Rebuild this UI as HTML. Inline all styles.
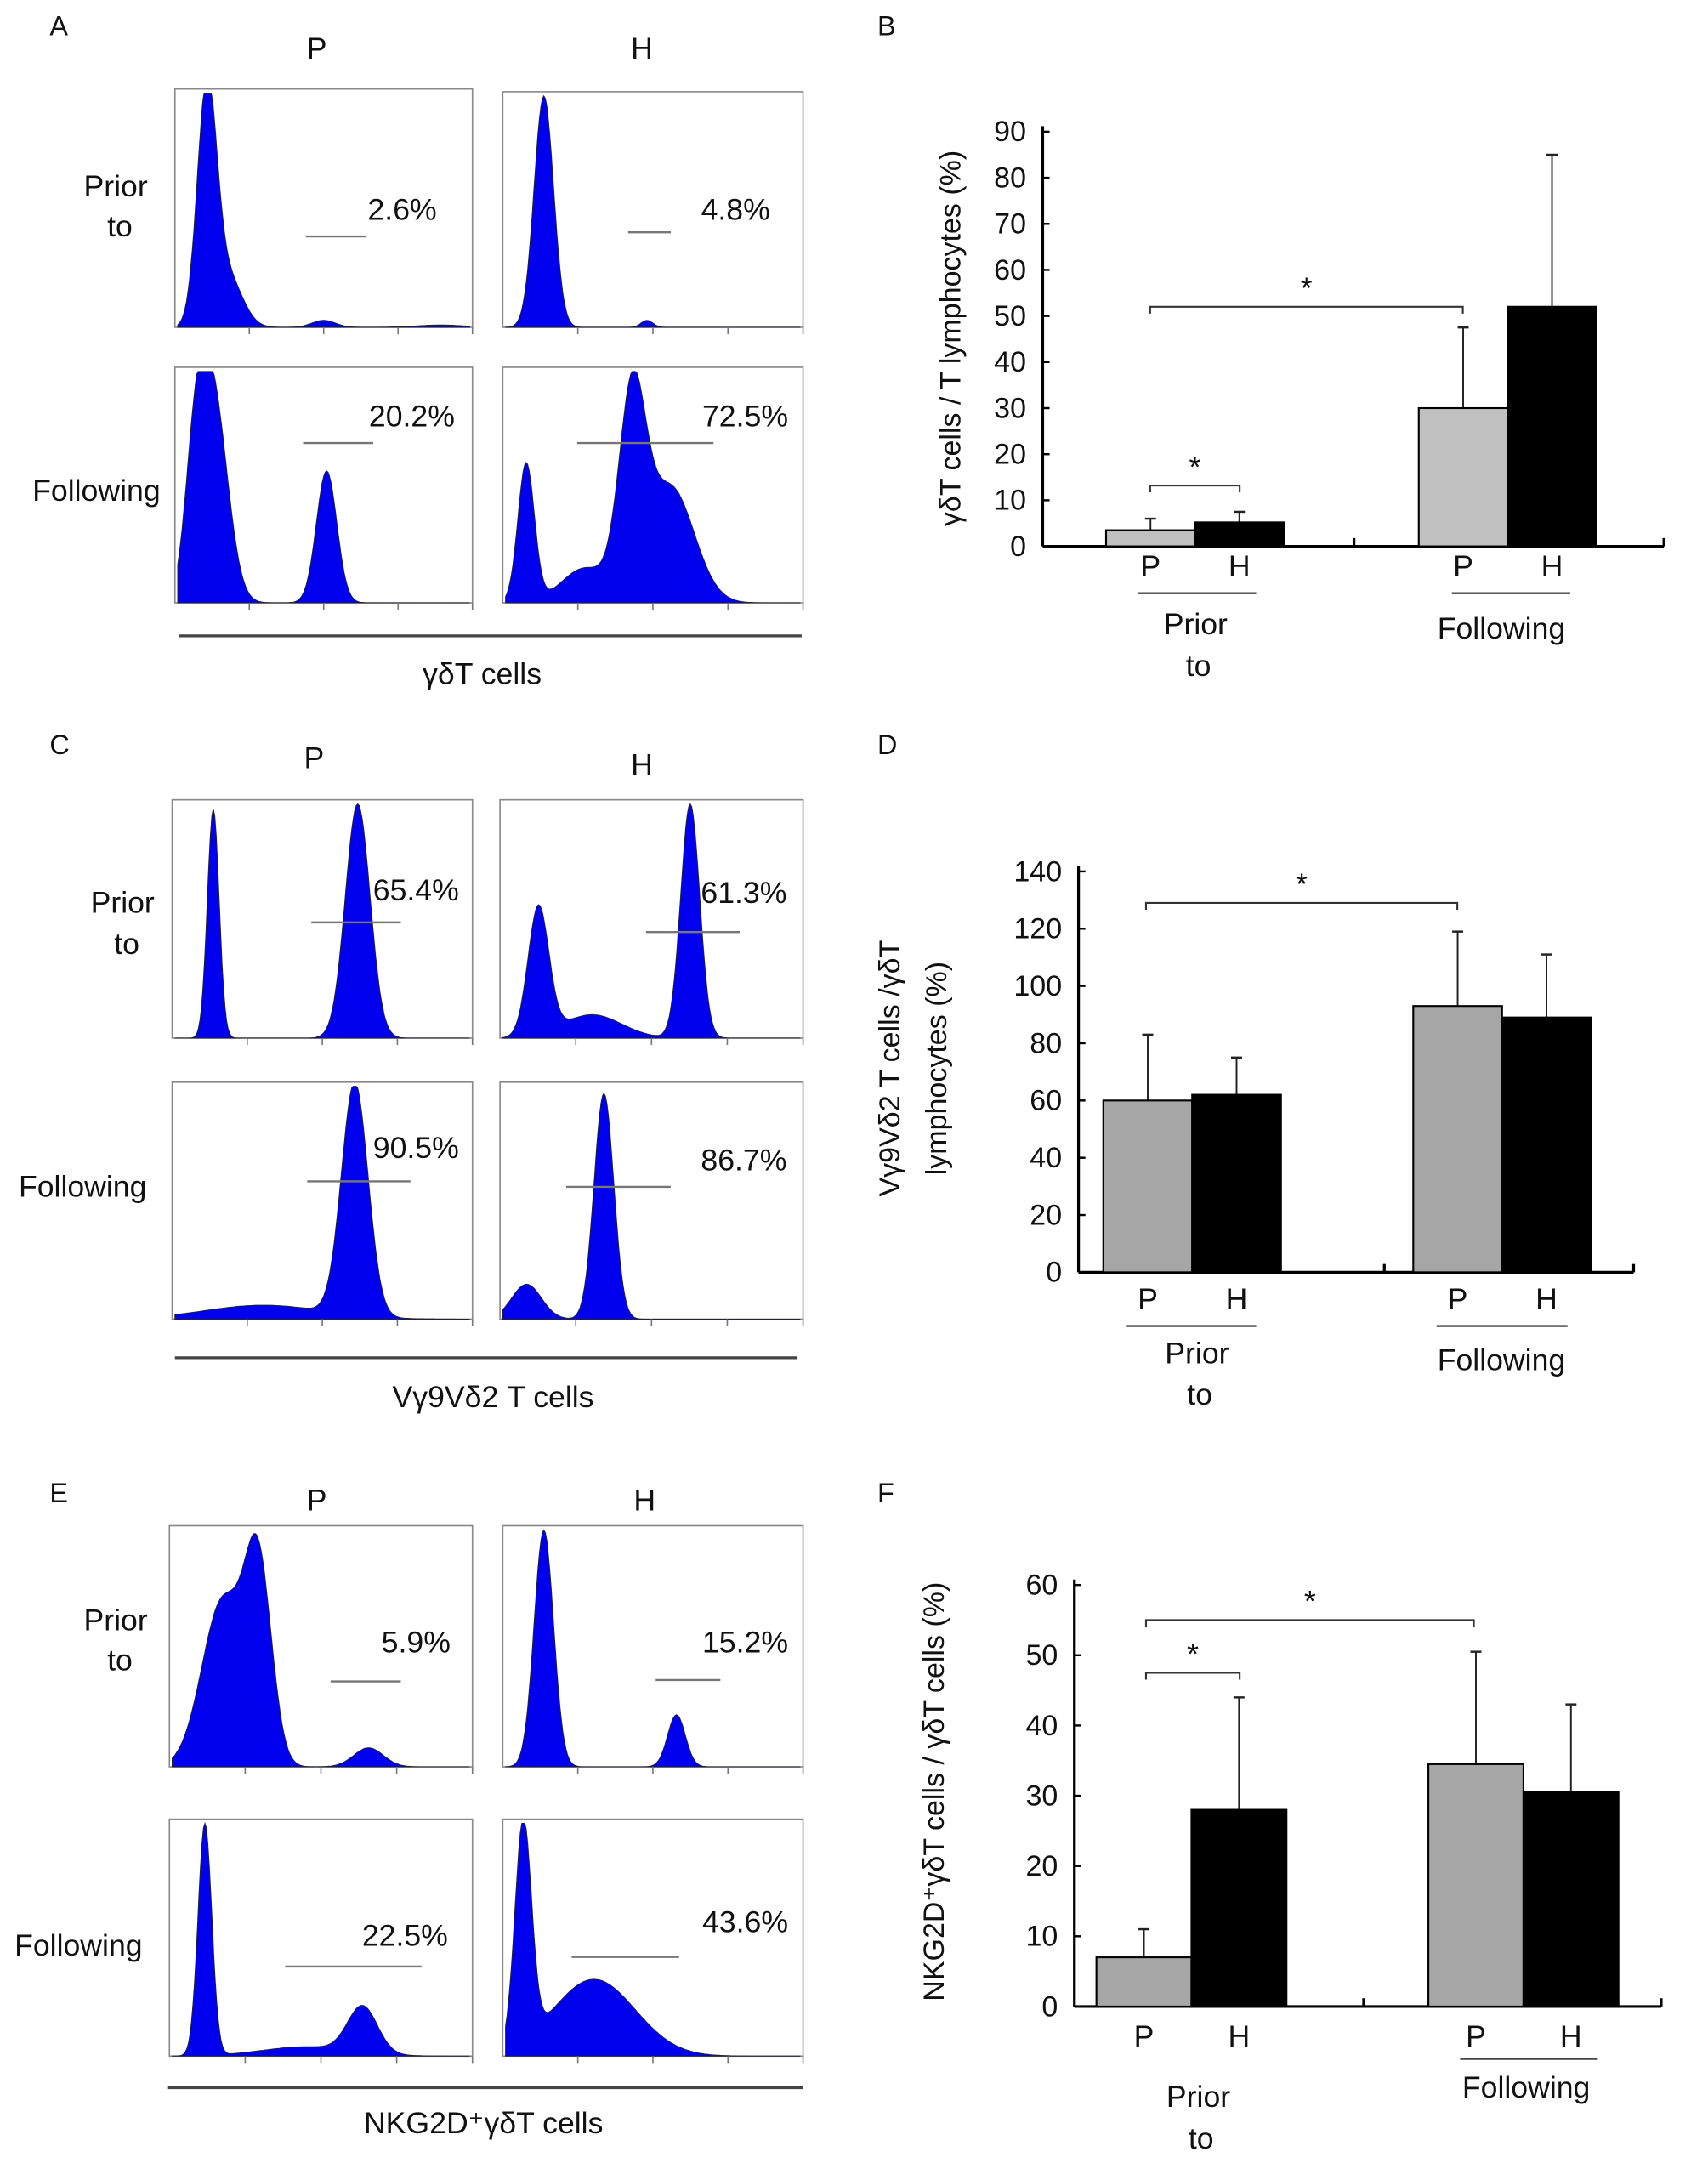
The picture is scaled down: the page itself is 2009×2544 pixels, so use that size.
<!DOCTYPE html>
<html><head><meta charset="utf-8"><style>
html,body{margin:0;padding:0;background:#fff}
svg{display:block}
text{font-family:"Liberation Sans",sans-serif;fill:#111}
</style></head><body>
<svg id="fig" width="2009" height="2544" viewBox="0 0 1240 1569" xmlns="http://www.w3.org/2000/svg">
<g font-size="20">
<text x="36" y="25">A</text>
<text x="637" y="25">B</text>
<text x="36" y="547">C</text>
<text x="637" y="547">D</text>
<text x="36" y="1090">E</text>
<text x="637" y="1090">F</text>
</g>
<g id="hists"></g>
<g id="bars"></g>
</svg>
<script>
// ---------- histogram data (components: center, width, height as box fractions) ----------
const histA_Pprior=[[0.10,0.033,1.0],[0.17,0.05,0.22],[0.50,0.04,0.03],[0.9,0.08,0.01]];
const histA_Hprior=[[0.13,0.033,1.0],[0.48,0.02,0.03]];
const histA_Pfollow=[[0.12,0.05,0.9],[0.06,0.035,0.5],[0.51,0.035,0.57]];
const histA_Hfollow=[[0.07,0.028,0.6],[0.27,0.08,0.15],[0.43,0.045,0.85],[0.56,0.08,0.5]];
const histC_Pprior=[[0.13,0.02,0.98],[0.62,0.042,1.0]];
const histC_Hprior=[[0.12,0.035,0.55],[0.30,0.1,0.1],[0.63,0.032,1.0]];
const histC_Pfollow=[[0.61,0.045,1.0],[0.30,0.2,0.06]];
const histC_Hfollow=[[0.08,0.05,0.15],[0.34,0.033,0.97]];
const histE_Pprior=[[0.17,0.07,0.7],[0.29,0.045,0.8],[0.66,0.05,0.08]];
const histE_Hprior=[[0.13,0.033,1.0],[0.58,0.03,0.22]];
const histE_Pfollow=[[0.11,0.023,1.0],[0.64,0.05,0.2],[0.45,0.15,0.04]];
const histE_Hfollow=[[0.06,0.028,0.95],[0.30,0.14,0.33]];

const NS='http://www.w3.org/2000/svg';
function mk(tag,attrs,parent){const e=document.createElementNS(NS,tag);for(const k in attrs)e.setAttribute(k,attrs[k]);parent.appendChild(e);return e;}
function txt(x,y,s,parent,anchor,size){const t=mk('text',{x:x,y:y,'text-anchor':anchor||'middle','font-size':size||22},parent);t.textContent=s;return t;}
const H=document.getElementById('hists');

function hist(comps,x0,y0,x1,y1,name){
  const g=mk('g',{},H);
  
  
  const box=mk('rect',{x:x0,y:y0,width:x1-x0,height:y1-y0,fill:'none',stroke:'#888','stroke-width':1},g);
  
  
  const h=(y1-y0-3);let d='M'+(x0+2)+','+y1;
  const N=200;
  for(let i=0;i<=N;i++){const f=i/N;let v=0;for(const c of comps){v+=c[2]*Math.exp(-0.5*Math.pow((f-c[0])/c[1],2));}
    v=Math.min(v,1);const x=x0+2+f*(x1-x0-4);d+=' L'+x.toFixed(1)+','+(y1-v*h).toFixed(1);}
  d+=' L'+(x1-2)+','+y1+' Z';
  const p=mk('path',{d:d,fill:'#0000ee',stroke:'#223','stroke-width':0.6},g);
  
  
  for(let k=1;k<=4;k++){const tx=x0+k*(x1-x0)/4;mk('line',{x1:tx,y1:y1,x2:tx,y2:y1+5,stroke:'#777','stroke-width':1},g);}
}
function gate(x0,x1,y,label,lx,ly,name){
  const l=mk('line',{x1:x0,y1:y,x2:x1,y2:y,stroke:'#777','stroke-width':1.5},H);
  
  
  const t=txt(lx,ly,label,H,'middle',22);
  
  
}
function label(x,y,s,name,size){const t=txt(x,y,s,H,'middle',size||22);return t;}
function baseline(x0,x1,y,name){const l=mk('line',{x1:x0,y1:y,x2:x1,y2:y,stroke:'#444','stroke-width':2},H);}

// Panel A
label(230,42,'P','a-col-p');label(466,42,'H','a-col-h');
label(84,142,'Prior','a-row-prior');label(87,171,'to','a-row-to');label(70,363,'Following','a-row-following');
hist(histA_Pprior,127,64,343,237,'a-p-prior');hist(histA_Hprior,365,66,583,237,'a-h-prior');
hist(histA_Pfollow,127,266,343,437,'a-p-following');hist(histA_Hfollow,365,266,583,437,'a-h-following');
gate(222,266,171,'2.6%',292,159,'a-p-prior');gate(456,487,168,'4.8%',534,159,'a-h-prior');
gate(220,271,321,'20.2%',299,309,'a-p-following');gate(419,518,321,'72.5%',541,309,'a-h-following');
baseline(130,582,461,'a-axis-line');label(350,496,'γδT cells','a-x-title');

// Panel C
label(228,557,'P','c-col-p');label(466,562,'H','c-col-h');
label(89,662,'Prior','c-row-prior');label(92,692,'to','c-row-to');label(60,868,'Following','c-row-following');
hist(histC_Pprior,125,580,343,753,'c-p-prior');hist(histC_Hprior,363,580,583,753,'c-h-prior');
hist(histC_Pfollow,125,785,343,957,'c-p-following');hist(histC_Hfollow,363,785,583,957,'c-h-following');
gate(226,291,669,'65.4%',302,653,'c-p-prior');gate(469,537,676,'61.3%',540,655,'c-h-prior');
gate(223,298,857,'90.5%',302,840,'c-p-following');gate(411,487,861,'86.7%',540,849,'c-h-following');
baseline(127,579,985,'c-axis-line');label(358,1021,'Vγ9Vδ2 T cells','c-x-title');

// Panel E
label(230,1096,'P','e-col-p');label(468,1096,'H','e-col-h');
label(84,1183,'Prior','e-row-prior');label(87,1212,'to','e-row-to');label(57,1419,'Following','e-row-following');
hist(histE_Pprior,123,1107,343,1282,'e-p-prior');hist(histE_Hprior,365,1107,583,1282,'e-h-prior');
hist(histE_Pfollow,123,1320,343,1492,'e-p-following');hist(histE_Hfollow,365,1320,583,1492,'e-h-following');
gate(240,291,1220,'5.9%',302,1199,'e-p-prior');gate(476,523,1219,'15.2%',541,1199,'e-h-prior');
gate(207,306,1427,'22.5%',294,1412,'e-p-following');gate(415,493,1420,'43.6%',541,1402,'e-h-following');
baseline(122,583,1515,'e-axis-line');label(351,1548,'NKG2D⁺γδT cells','e-x-title');

// ---------- bar chart data ----------
const groups=['Prior to','Following'];
const seriesNames=['P','H'];
const bMeans=[[3.5,5.2],[30,52]];
const bErr=[[6,7.5],[47.5,85]];
const bTicks=[0,10,20,30,40,50,60,70,80,90];
const dMeans=[[60,62],[93,89]];
const dErr=[[83,75],[119,111]];
const dTicks=[0,20,40,60,80,100,120,140];
const fMeans=[[7,28],[34.5,30.5]];
const fErr=[[11,44],[50.5,43]];
const fTicks=[0,10,20,30,40,50,60];

const B=document.getElementById('bars');
function barChart(cfg){
  const g=mk('g',{},B);
  
  
  const tmax=cfg.ticks[cfg.ticks.length-1];
  const y=v=>cfg.y0-(v/tmax)*(cfg.y0-cfg.yTop);
  const ax=mk('line',{x1:cfg.ax,y1:cfg.y0,x2:cfg.ax,y2:cfg.yTop-4,stroke:'#000','stroke-width':2},g);
  
  const xa=mk('line',{x1:cfg.ax,y1:cfg.y0,x2:cfg.xEnd,y2:cfg.y0,stroke:'#000','stroke-width':2},g);
  
  mk('line',{x1:cfg.xMid,y1:cfg.y0,x2:cfg.xMid,y2:cfg.y0-6,stroke:'#000','stroke-width':2},g);
  mk('line',{x1:cfg.xEnd,y1:cfg.y0,x2:cfg.xEnd,y2:cfg.y0-6,stroke:'#000','stroke-width':2},g);
  cfg.ticks.forEach(t=>{
    mk('line',{x1:cfg.ax,y1:y(t),x2:cfg.ax+5,y2:y(t),stroke:'#000','stroke-width':1.5},g);
    const tl=txt(cfg.ax-12,y(t)+7,String(t),g,'end',21);
    
  });
  cfg.means.forEach((gm,gi)=>{
    gm.forEach((v,si)=>{
      const x0=cfg.barX[gi]+si*cfg.bw;
      const cx=x0+cfg.bw/2;
      const el=mk('line',{x1:cx,y1:y(v),x2:cx,y2:y(cfg.err[gi][si]),stroke:'#222','stroke-width':1.2},g);
      
      mk('line',{x1:cx-4,y1:y(cfg.err[gi][si]),x2:cx+4,y2:y(cfg.err[gi][si]),stroke:'#222','stroke-width':1.5},g);
      const r=mk('rect',{x:x0,y:y(v),width:cfg.bw,height:cfg.y0-y(v),fill:si==0?cfg.pFill:'#000',stroke:'#000','stroke-width':1.3},g);
      
      
      const sl=txt(cx,cfg.lblY,seriesNames[si],g,'middle',22);
      
    });
  });
  cfg.underlines.forEach(u=>{mk('line',{x1:u[0],y1:cfg.ulY,x2:u[1],y2:cfg.ulY,stroke:'#444','stroke-width':1.5},g);});
  const p1=txt(cfg.priorX,cfg.priorY,'Prior',g,'middle',22);
  const p2=txt(cfg.priorX+2,cfg.priorY+30,'to',g,'middle',22);
  const f=txt(cfg.follX,cfg.follY,'Following',g,'middle',22);
  cfg.sig.forEach(s=>{
    const yy=y(s[2]);
    const br=mk('path',{d:`M${s[0]},${yy+5} L${s[0]},${yy} L${s[1]},${yy} L${s[1]},${yy+5}`,fill:'none',stroke:'#333','stroke-width':1.3},g);
    
    const st=txt((s[0]+s[1])/2,yy-6,'*',g,'middle',22);
    
  });
  const yt=mk('text',{transform:`translate(${cfg.titleX},${cfg.titleY}) rotate(-90)`,'text-anchor':'middle','font-size':21},g);
  
  cfg.title.forEach((line,i)=>{const ts=mk('tspan',{x:0,dy:i==0?0:34},yt);ts.textContent=line;});
}
barChart({name:'chart-b',ax:757,y0:396,yTop:95,xEnd:1208,xMid:983,ticks:bTicks,means:bMeans,err:bErr,barX:[803,1030],bw:64.5,pFill:'#c0c0c0',
  lblY:418,ulY:430,underlines:[[826,912],[1054,1140]],priorX:868,priorY:460,follX:1090,follY:463,
  sig:[[835,1062,52],[835,900,13.2]],titleX:697,titleY:245,title:['γδT cells / T lymphocytes (%)']});
barChart({name:'chart-d',ax:783,y0:923,yTop:632,xEnd:1186,xMid:1005,ticks:dTicks,means:dMeans,err:dErr,barX:[801,1026],bw:64.5,pFill:'#a6a6a6',
  lblY:950,ulY:962,underlines:[[818,912],[1043,1138]],priorX:869,priorY:989,follX:1090,follY:994,
  sig:[[832,1058,129]],titleX:653,titleY:775,title:['Vγ9Vδ2 T cells /γδT','lymphocytes (%)']});
barChart({name:'chart-f',ax:780,y0:1456,yTop:1150,xEnd:1206,xMid:990,ticks:fTicks,means:fMeans,err:fErr,barX:[796,1037],bw:69,pFill:'#a6a6a6',
  lblY:1485,ulY:1494,underlines:[[1060,1160]],priorX:870,priorY:1529,follX:1108,follY:1522,
  sig:[[832,1070,55],[832,900,47.5]],titleX:685,titleY:1300,title:['NKG2D⁺γδT cells / γδT cells (%)']});
</script>
</body></html>
